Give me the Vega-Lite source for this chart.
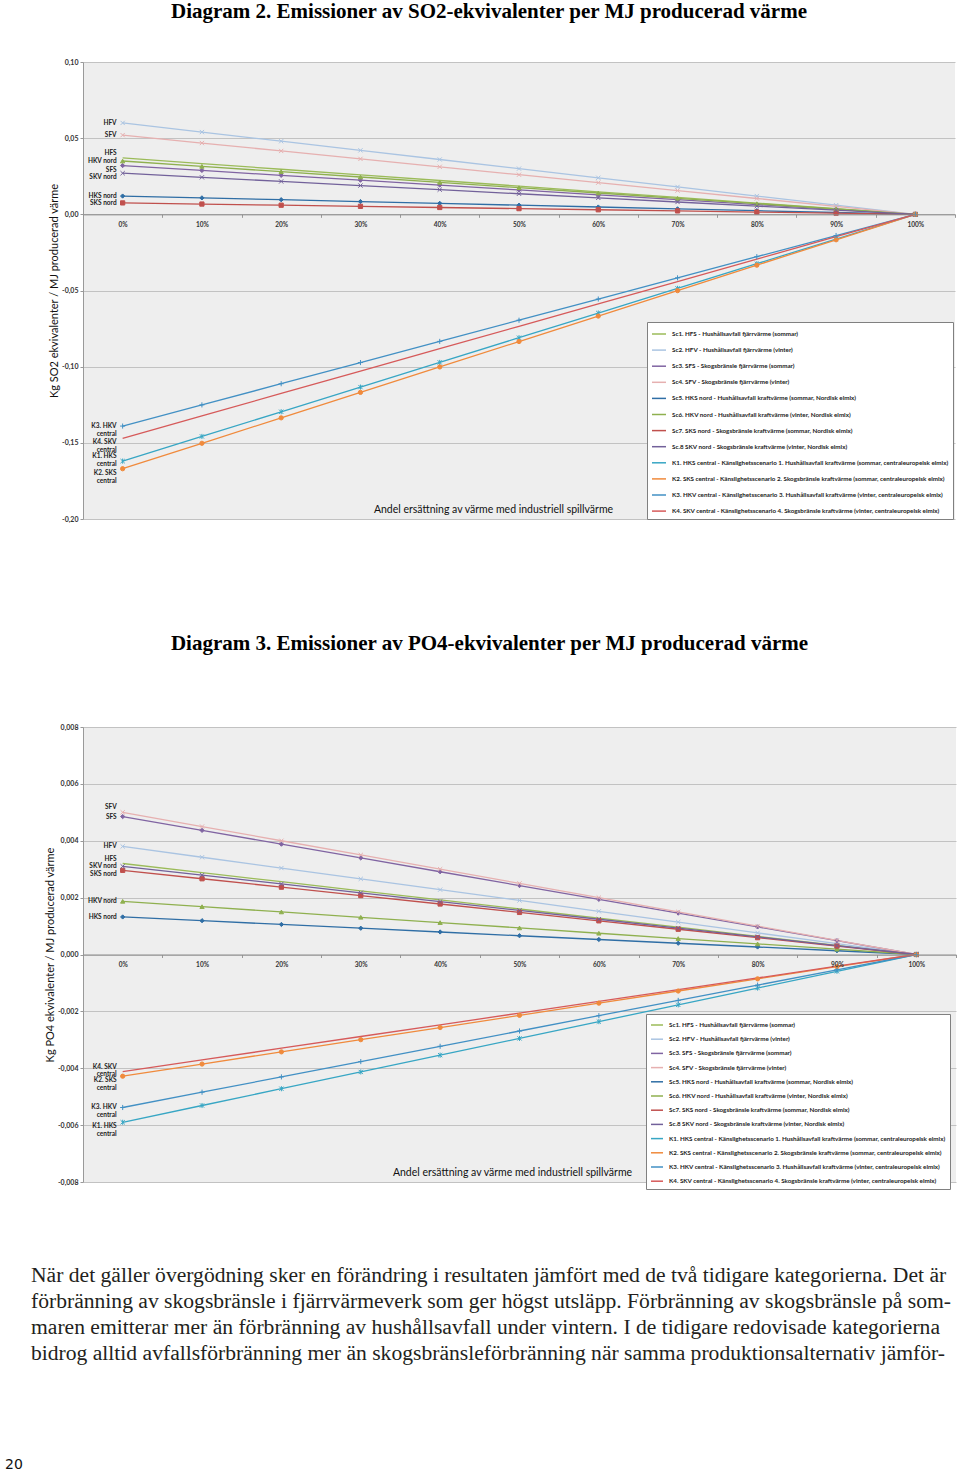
{
"$schema": "https://vega.github.io/schema/vega-lite/v6.json",
"background": "#ffffff",
"padding": {"left": 5, "top": 1, "right": 0, "bottom": 0},
"config": {"view": {"stroke": null}, "font": "Lato", "locale": {"number": {"decimal": ",", "thousands": " ", "grouping": [3], "currency": ["", " kr"], "minus": "-"}}},
"datasets": {
"series": [
{"id": "HFS", "name": "Sc1. HFS - Hushållsavfall fjärrvärme (sommar)", "label": "HFS"},
{"id": "HFV", "name": "Sc2. HFV - Hushållsavfall fjärrvärme (vinter)", "label": "HFV"},
{"id": "SFS", "name": "Sc3. SFS - Skogsbränsle fjärrvärme (sommar)", "label": "SFS"},
{"id": "SFV", "name": "Sc4. SFV - Skogsbränsle fjärrvärme (vinter)", "label": "SFV"},
{"id": "HKSn", "name": "Sc5. HKS nord - Hushållsavfall kraftvärme (sommar, Nordisk elmix)", "label": "HKS nord"},
{"id": "HKVn", "name": "Sc6. HKV nord - Hushållsavfall kraftvärme (vinter, Nordisk elmix)", "label": "HKV nord"},
{"id": "SKSn", "name": "Sc7. SKS nord - Skogsbränsle kraftvärme (sommar, Nordisk elmix)", "label": "SKS nord"},
{"id": "SKVn", "name": "Sc.8 SKV nord - Skogsbränsle kraftvärme (vinter, Nordisk elmix)", "label": "SKV nord"},
{"id": "K1", "name": "K1. HKS central - Känslighetsscenario 1. Hushållsavfall kraftvärme (sommar, centraleuropeisk elmix)", "label": "K1. HKS\ncentral"},
{"id": "K2", "name": "K2. SKS central - Känslighetsscenario 2. Skogsbränsle kraftvärme (sommar, centraleuropeisk elmix)", "label": "K2. SKS\ncentral"},
{"id": "K3", "name": "K3. HKV central - Känslighetsscenario 3. Hushållsavfall kraftvärme (vinter, centraleuropeisk elmix)", "label": "K3. HKV\ncentral"},
{"id": "K4", "name": "K4. SKV central - Känslighetsscenario 4. Skogsbränsle kraftvärme (vinter, centraleuropeisk elmix)", "label": "K4. SKV\ncentral"}
],
"so2": [
{"id":"HFS","p":0,"v":0.037},{"id":"HFS","p":10,"v":0.0333},{"id":"HFS","p":20,"v":0.0296},{"id":"HFS","p":30,"v":0.0259},{"id":"HFS","p":40,"v":0.0222},{"id":"HFS","p":50,"v":0.0185},{"id":"HFS","p":60,"v":0.0148},{"id":"HFS","p":70,"v":0.0111},{"id":"HFS","p":80,"v":0.0074},{"id":"HFS","p":90,"v":0.0037},{"id":"HFS","p":100,"v":0},
{"id":"HFV","p":0,"v":0.06},{"id":"HFV","p":10,"v":0.054},{"id":"HFV","p":20,"v":0.048},{"id":"HFV","p":30,"v":0.042},{"id":"HFV","p":40,"v":0.036},{"id":"HFV","p":50,"v":0.03},{"id":"HFV","p":60,"v":0.024},{"id":"HFV","p":70,"v":0.018},{"id":"HFV","p":80,"v":0.012},{"id":"HFV","p":90,"v":0.006},{"id":"HFV","p":100,"v":0},
{"id":"SFS","p":0,"v":0.032},{"id":"SFS","p":10,"v":0.0288},{"id":"SFS","p":20,"v":0.0256},{"id":"SFS","p":30,"v":0.0224},{"id":"SFS","p":40,"v":0.0192},{"id":"SFS","p":50,"v":0.016},{"id":"SFS","p":60,"v":0.0128},{"id":"SFS","p":70,"v":0.0096},{"id":"SFS","p":80,"v":0.0064},{"id":"SFS","p":90,"v":0.0032},{"id":"SFS","p":100,"v":0},
{"id":"SFV","p":0,"v":0.052},{"id":"SFV","p":10,"v":0.0468},{"id":"SFV","p":20,"v":0.0416},{"id":"SFV","p":30,"v":0.0364},{"id":"SFV","p":40,"v":0.0312},{"id":"SFV","p":50,"v":0.026},{"id":"SFV","p":60,"v":0.0208},{"id":"SFV","p":70,"v":0.0156},{"id":"SFV","p":80,"v":0.0104},{"id":"SFV","p":90,"v":0.0052},{"id":"SFV","p":100,"v":0},
{"id":"HKSn","p":0,"v":0.012},{"id":"HKSn","p":10,"v":0.0108},{"id":"HKSn","p":20,"v":0.0096},{"id":"HKSn","p":30,"v":0.0084},{"id":"HKSn","p":40,"v":0.0072},{"id":"HKSn","p":50,"v":0.006},{"id":"HKSn","p":60,"v":0.0048},{"id":"HKSn","p":70,"v":0.0036},{"id":"HKSn","p":80,"v":0.0024},{"id":"HKSn","p":90,"v":0.0012},{"id":"HKSn","p":100,"v":0},
{"id":"HKVn","p":0,"v":0.035},{"id":"HKVn","p":10,"v":0.0315},{"id":"HKVn","p":20,"v":0.028},{"id":"HKVn","p":30,"v":0.0245},{"id":"HKVn","p":40,"v":0.021},{"id":"HKVn","p":50,"v":0.0175},{"id":"HKVn","p":60,"v":0.014},{"id":"HKVn","p":70,"v":0.0105},{"id":"HKVn","p":80,"v":0.007},{"id":"HKVn","p":90,"v":0.0035},{"id":"HKVn","p":100,"v":0},
{"id":"SKSn","p":0,"v":0.0075},{"id":"SKSn","p":10,"v":0.00675},{"id":"SKSn","p":20,"v":0.006},{"id":"SKSn","p":30,"v":0.00525},{"id":"SKSn","p":40,"v":0.0045},{"id":"SKSn","p":50,"v":0.00375},{"id":"SKSn","p":60,"v":0.003},{"id":"SKSn","p":70,"v":0.00225},{"id":"SKSn","p":80,"v":0.0015},{"id":"SKSn","p":90,"v":0.00075},{"id":"SKSn","p":100,"v":0},
{"id":"SKVn","p":0,"v":0.027},{"id":"SKVn","p":10,"v":0.0243},{"id":"SKVn","p":20,"v":0.0216},{"id":"SKVn","p":30,"v":0.0189},{"id":"SKVn","p":40,"v":0.0162},{"id":"SKVn","p":50,"v":0.0135},{"id":"SKVn","p":60,"v":0.0108},{"id":"SKVn","p":70,"v":0.0081},{"id":"SKVn","p":80,"v":0.0054},{"id":"SKVn","p":90,"v":0.0027},{"id":"SKVn","p":100,"v":0},
{"id":"K1","p":0,"v":-0.162},{"id":"K1","p":10,"v":-0.1458},{"id":"K1","p":20,"v":-0.1296},{"id":"K1","p":30,"v":-0.1134},{"id":"K1","p":40,"v":-0.0972},{"id":"K1","p":50,"v":-0.081},{"id":"K1","p":60,"v":-0.0648},{"id":"K1","p":70,"v":-0.0486},{"id":"K1","p":80,"v":-0.0324},{"id":"K1","p":90,"v":-0.0162},{"id":"K1","p":100,"v":0},
{"id":"K2","p":0,"v":-0.167},{"id":"K2","p":10,"v":-0.1503},{"id":"K2","p":20,"v":-0.1336},{"id":"K2","p":30,"v":-0.1169},{"id":"K2","p":40,"v":-0.1002},{"id":"K2","p":50,"v":-0.0835},{"id":"K2","p":60,"v":-0.0668},{"id":"K2","p":70,"v":-0.0501},{"id":"K2","p":80,"v":-0.0334},{"id":"K2","p":90,"v":-0.0167},{"id":"K2","p":100,"v":0},
{"id":"K3","p":0,"v":-0.139},{"id":"K3","p":10,"v":-0.1251},{"id":"K3","p":20,"v":-0.1112},{"id":"K3","p":30,"v":-0.0973},{"id":"K3","p":40,"v":-0.0834},{"id":"K3","p":50,"v":-0.0695},{"id":"K3","p":60,"v":-0.0556},{"id":"K3","p":70,"v":-0.0417},{"id":"K3","p":80,"v":-0.0278},{"id":"K3","p":90,"v":-0.0139},{"id":"K3","p":100,"v":0},
{"id":"K4","p":0,"v":-0.147},{"id":"K4","p":10,"v":-0.1323},{"id":"K4","p":20,"v":-0.1176},{"id":"K4","p":30,"v":-0.1029},{"id":"K4","p":40,"v":-0.0882},{"id":"K4","p":50,"v":-0.0735},{"id":"K4","p":60,"v":-0.0588},{"id":"K4","p":70,"v":-0.0441},{"id":"K4","p":80,"v":-0.0294},{"id":"K4","p":90,"v":-0.0147},{"id":"K4","p":100,"v":0}
],
"po4": [
{"id":"HFS","p":0,"v":0.0032},{"id":"HFS","p":10,"v":0.00288},{"id":"HFS","p":20,"v":0.00256},{"id":"HFS","p":30,"v":0.00224},{"id":"HFS","p":40,"v":0.00192},{"id":"HFS","p":50,"v":0.0016},{"id":"HFS","p":60,"v":0.00128},{"id":"HFS","p":70,"v":0.00096},{"id":"HFS","p":80,"v":0.00064},{"id":"HFS","p":90,"v":0.00032},{"id":"HFS","p":100,"v":0},
{"id":"HFV","p":0,"v":0.0038},{"id":"HFV","p":10,"v":0.00342},{"id":"HFV","p":20,"v":0.00304},{"id":"HFV","p":30,"v":0.00266},{"id":"HFV","p":40,"v":0.00228},{"id":"HFV","p":50,"v":0.0019},{"id":"HFV","p":60,"v":0.00152},{"id":"HFV","p":70,"v":0.00114},{"id":"HFV","p":80,"v":0.00076},{"id":"HFV","p":90,"v":0.00038},{"id":"HFV","p":100,"v":0},
{"id":"SFS","p":0,"v":0.00485},{"id":"SFS","p":10,"v":0.004365},{"id":"SFS","p":20,"v":0.00388},{"id":"SFS","p":30,"v":0.003395},{"id":"SFS","p":40,"v":0.00291},{"id":"SFS","p":50,"v":0.002425},{"id":"SFS","p":60,"v":0.00194},{"id":"SFS","p":70,"v":0.001455},{"id":"SFS","p":80,"v":0.00097},{"id":"SFS","p":90,"v":0.000485},{"id":"SFS","p":100,"v":0},
{"id":"SFV","p":0,"v":0.005},{"id":"SFV","p":10,"v":0.0045},{"id":"SFV","p":20,"v":0.004},{"id":"SFV","p":30,"v":0.0035},{"id":"SFV","p":40,"v":0.003},{"id":"SFV","p":50,"v":0.0025},{"id":"SFV","p":60,"v":0.002},{"id":"SFV","p":70,"v":0.0015},{"id":"SFV","p":80,"v":0.001},{"id":"SFV","p":90,"v":0.0005},{"id":"SFV","p":100,"v":0},
{"id":"HKSn","p":0,"v":0.00132},{"id":"HKSn","p":10,"v":0.001188},{"id":"HKSn","p":20,"v":0.001056},{"id":"HKSn","p":30,"v":0.000924},{"id":"HKSn","p":40,"v":0.000792},{"id":"HKSn","p":50,"v":0.00066},{"id":"HKSn","p":60,"v":0.000528},{"id":"HKSn","p":70,"v":0.000396},{"id":"HKSn","p":80,"v":0.000264},{"id":"HKSn","p":90,"v":0.000132},{"id":"HKSn","p":100,"v":0},
{"id":"HKVn","p":0,"v":0.00187},{"id":"HKVn","p":10,"v":0.001683},{"id":"HKVn","p":20,"v":0.001496},{"id":"HKVn","p":30,"v":0.001309},{"id":"HKVn","p":40,"v":0.001122},{"id":"HKVn","p":50,"v":0.000935},{"id":"HKVn","p":60,"v":0.000748},{"id":"HKVn","p":70,"v":0.000561},{"id":"HKVn","p":80,"v":0.000374},{"id":"HKVn","p":90,"v":0.000187},{"id":"HKVn","p":100,"v":0},
{"id":"SKSn","p":0,"v":0.00296},{"id":"SKSn","p":10,"v":0.002664},{"id":"SKSn","p":20,"v":0.002368},{"id":"SKSn","p":30,"v":0.002072},{"id":"SKSn","p":40,"v":0.001776},{"id":"SKSn","p":50,"v":0.00148},{"id":"SKSn","p":60,"v":0.001184},{"id":"SKSn","p":70,"v":0.000888},{"id":"SKSn","p":80,"v":0.000592},{"id":"SKSn","p":90,"v":0.000296},{"id":"SKSn","p":100,"v":0},
{"id":"SKVn","p":0,"v":0.0031},{"id":"SKVn","p":10,"v":0.00279},{"id":"SKVn","p":20,"v":0.00248},{"id":"SKVn","p":30,"v":0.00217},{"id":"SKVn","p":40,"v":0.00186},{"id":"SKVn","p":50,"v":0.00155},{"id":"SKVn","p":60,"v":0.00124},{"id":"SKVn","p":70,"v":0.00093},{"id":"SKVn","p":80,"v":0.00062},{"id":"SKVn","p":90,"v":0.00031},{"id":"SKVn","p":100,"v":0},
{"id":"K1","p":0,"v":-0.0059},{"id":"K1","p":10,"v":-0.00531},{"id":"K1","p":20,"v":-0.00472},{"id":"K1","p":30,"v":-0.00413},{"id":"K1","p":40,"v":-0.00354},{"id":"K1","p":50,"v":-0.00295},{"id":"K1","p":60,"v":-0.00236},{"id":"K1","p":70,"v":-0.00177},{"id":"K1","p":80,"v":-0.00118},{"id":"K1","p":90,"v":-0.00059},{"id":"K1","p":100,"v":0},
{"id":"K2","p":0,"v":-0.00428},{"id":"K2","p":10,"v":-0.003852},{"id":"K2","p":20,"v":-0.003424},{"id":"K2","p":30,"v":-0.002996},{"id":"K2","p":40,"v":-0.002568},{"id":"K2","p":50,"v":-0.00214},{"id":"K2","p":60,"v":-0.001712},{"id":"K2","p":70,"v":-0.001284},{"id":"K2","p":80,"v":-0.000856},{"id":"K2","p":90,"v":-0.000428},{"id":"K2","p":100,"v":0},
{"id":"K3","p":0,"v":-0.00538},{"id":"K3","p":10,"v":-0.004842},{"id":"K3","p":20,"v":-0.004304},{"id":"K3","p":30,"v":-0.003766},{"id":"K3","p":40,"v":-0.003228},{"id":"K3","p":50,"v":-0.00269},{"id":"K3","p":60,"v":-0.002152},{"id":"K3","p":70,"v":-0.001614},{"id":"K3","p":80,"v":-0.001076},{"id":"K3","p":90,"v":-0.000538},{"id":"K3","p":100,"v":0},
{"id":"K4","p":0,"v":-0.00412},{"id":"K4","p":10,"v":-0.003708},{"id":"K4","p":20,"v":-0.003296},{"id":"K4","p":30,"v":-0.002884},{"id":"K4","p":40,"v":-0.002472},{"id":"K4","p":50,"v":-0.00206},{"id":"K4","p":60,"v":-0.001648},{"id":"K4","p":70,"v":-0.001236},{"id":"K4","p":80,"v":-0.000824},{"id":"K4","p":90,"v":-0.000412},{"id":"K4","p":100,"v":0}
]
},
"vconcat": [
{
"width": 872, "height": 457,
"view": {"fill": "#eeeeee", "stroke": null},
"title": {"text": "Diagram 2. Emissioner av SO2-ekvivalenter per MJ producerad värme", "frame": "group", "anchor": "middle", "dx": -30, "offset": 19, "baseline": "alphabetic", "font": "Liberation Serif", "fontSize": 21, "fontWeight": "bold", "color": "#000000"},
"data": {"name": "so2"},
"transform": [{"lookup": "id", "from": {"data": {"name": "series"}, "key": "id", "fields": ["name", "label"]}}],
"encoding": {
"x": {"field": "p", "type": "ordinal", "scale": {"type": "band", "paddingInner": 0, "paddingOuter": 0},
"axis": {"orient": "bottom", "offset": -304.67, "labelExpr": "datum.label ? datum.label + '%' : ''", "labelAngle": 0, "labelFont": "Lato", "labelFontSize": 6.5, "labelFontWeight": "bold", "labelColor": "#333333", "labelPadding": 4, "tickSize": 3, "tickBand": "extent", "tickColor": "#999999", "domainColor": "#8a8a8a", "grid": false,
"title": "Andel ersättning av värme med industriell spillvärme", "titleFont": "Lato", "titleFontSize": 10.5, "titleFontWeight": "normal", "titleColor": "#111111", "titleX": 410, "titleY": 295, "titleBaseline": "middle", "titleAlign": "center"}},
"y": {"field": "v", "type": "quantitative", "scale": {"domain": [-0.2, 0.1], "nice": false, "zero": false},
"axis": {"values": [-0.2, -0.15, -0.1, -0.05, 0, 0.05, 0.1], "format": ".2f", "labelFont": "Lato", "labelFontSize": 7, "labelFontWeight": "bold", "labelColor": "#333333", "labelPadding": 2, "tickSize": 3, "tickColor": "#999999", "domainColor": "#999999", "gridColor": "#c2c2c2",
"title": "Kg SO2 ekvivalenter / MJ producerad värme", "titleFont": "Lato", "titleFontSize": 11, "titleFontWeight": "normal", "titleColor": "#111111", "titlePadding": 2}}
},
"layer": [
{"data": {"values": [{}]},
"mark": {"type": "rect", "fillOpacity": 0, "stroke": "#c8c8c8", "strokeWidth": 1, "xOffset": -45, "x2Offset": 3, "yOffset": -5, "y2Offset": 4},
"encoding": {"y": {"datum": 0.1, "type": "quantitative"}, "y2": {"datum": -0.2}}},
{"mark": {"type": "line", "strokeWidth": 1.3},
"encoding": {"color": {"field": "name", "type": "nominal",
"scale": {"domain": ["Sc1. HFS - Hushållsavfall fjärrvärme (sommar)", "Sc2. HFV - Hushållsavfall fjärrvärme (vinter)", "Sc3. SFS - Skogsbränsle fjärrvärme (sommar)", "Sc4. SFV - Skogsbränsle fjärrvärme (vinter)", "Sc5. HKS nord - Hushållsavfall kraftvärme (sommar, Nordisk elmix)", "Sc6. HKV nord - Hushållsavfall kraftvärme (vinter, Nordisk elmix)", "Sc7. SKS nord - Skogsbränsle kraftvärme (sommar, Nordisk elmix)", "Sc.8 SKV nord - Skogsbränsle kraftvärme (vinter, Nordisk elmix)", "K1. HKS central - Känslighetsscenario 1. Hushållsavfall kraftvärme (sommar, centraleuropeisk elmix)", "K2. SKS central - Känslighetsscenario 2. Skogsbränsle kraftvärme (sommar, centraleuropeisk elmix)", "K3. HKV central - Känslighetsscenario 3. Hushållsavfall kraftvärme (vinter, centraleuropeisk elmix)", "K4. SKV central - Känslighetsscenario 4. Skogsbränsle kraftvärme (vinter, centraleuropeisk elmix)"],
"range": ["#9bbb59", "#aac4e2", "#8064a2", "#e6b0b0", "#2f6ea5", "#8fb04f", "#c0504d", "#72619a", "#37a6c4", "#f08a3c", "#4290c4", "#d65a5a"]},
"legend": {"title": null, "orient": "none", "legendX": 564, "legendY": 260, "symbolType": "stroke", "symbolStrokeWidth": 1.5, "symbolSize": 196, "rowPadding": 4.1, "padding": 4, "labelFont": "Lato", "labelFontSize": 6.25, "labelFontWeight": "bold", "labelColor": "#222222", "labelLimit": 400, "labelOffset": 5, "fillColor": "#ffffff", "strokeColor": "#808080", "cornerRadius": 0}}}},
{"transform": [{"filter": {"not": {"field": "id", "oneOf": ["HFS", "K4"]}}}],
"mark": {"type": "point", "filled": true, "size": 18, "strokeWidth": 1, "opacity": 1},
"encoding": {
"color": {"field": "name", "type": "nominal", "legend": null},
"stroke": {"field": "name", "type": "nominal", "legend": null,
"scale": {"domain": ["Sc1. HFS - Hushållsavfall fjärrvärme (sommar)", "Sc2. HFV - Hushållsavfall fjärrvärme (vinter)", "Sc3. SFS - Skogsbränsle fjärrvärme (sommar)", "Sc4. SFV - Skogsbränsle fjärrvärme (vinter)", "Sc5. HKS nord - Hushållsavfall kraftvärme (sommar, Nordisk elmix)", "Sc6. HKV nord - Hushållsavfall kraftvärme (vinter, Nordisk elmix)", "Sc7. SKS nord - Skogsbränsle kraftvärme (sommar, Nordisk elmix)", "Sc.8 SKV nord - Skogsbränsle kraftvärme (vinter, Nordisk elmix)", "K1. HKS central - Känslighetsscenario 1. Hushållsavfall kraftvärme (sommar, centraleuropeisk elmix)", "K2. SKS central - Känslighetsscenario 2. Skogsbränsle kraftvärme (sommar, centraleuropeisk elmix)", "K3. HKV central - Känslighetsscenario 3. Hushållsavfall kraftvärme (vinter, centraleuropeisk elmix)", "K4. SKV central - Känslighetsscenario 4. Skogsbränsle kraftvärme (vinter, centraleuropeisk elmix)"],
"range": ["#9bbb59", "#aac4e2", "#8064a2", "#e6b0b0", "#2f6ea5", "#8fb04f", "#c0504d", "#72619a", "#37a6c4", "#f08a3c", "#4290c4", "#d65a5a"]}},
"shape": {"field": "id", "type": "nominal", "legend": null,
"scale": {"domain": ["HFV", "SFS", "SFV", "HKSn", "HKVn", "SKSn", "SKVn", "K1", "K2", "K3"],
"range": ["M-1,-1L1,1M-1,1L1,-1", "diamond", "M-1,-1L1,1M-1,1L1,-1", "diamond", "triangle-up", "square", "M-1,-1L1,1M-1,1L1,-1", "M-1,-1L1,1M-1,1L1,-1M0,-1.2L0,1.2", "circle", "M-1.2,0L1.2,0M0,-1.2L0,1.2"]}}}},
{"transform": [{"filter": {"and": [{"field": "p", "equal": 0}, {"field": "id", "oneOf": ["HFV", "SFV", "HKVn", "HKSn", "SKSn", "K3"]}]}}],
"mark": {"type": "text", "align": "right", "baseline": "middle", "dx": -6, "font": "Lato", "fontSize": 6.5, "fontWeight": "bold", "color": "#222222", "lineBreak": "\n", "lineHeight": 7.8},
"encoding": {"text": {"field": "label"}}},
{"transform": [{"filter": {"and": [{"field": "p", "equal": 0}, {"field": "id", "oneOf": ["HFS", "K1"]}]}}],
"mark": {"type": "text", "align": "right", "baseline": "middle", "dx": -6, "dy": -5, "font": "Lato", "fontSize": 6.5, "fontWeight": "bold", "color": "#222222", "lineBreak": "\n", "lineHeight": 7.8},
"encoding": {"text": {"field": "label"}}},
{"transform": [{"filter": {"and": [{"field": "p", "equal": 0}, {"field": "id", "oneOf": ["SFS", "SKVn", "K4", "K2"]}]}}],
"mark": {"type": "text", "align": "right", "baseline": "middle", "dx": -6, "dy": 4, "font": "Lato", "fontSize": 6.5, "fontWeight": "bold", "color": "#222222", "lineBreak": "\n", "lineHeight": 7.8},
"encoding": {"text": {"field": "label"}}},
{"data": {"values": [{}]},
"mark": {"type": "text", "align": "right", "baseline": "middle", "dx": 21, "font": "Lato", "fontSize": 12.5, "color": "#111111"},
"encoding": {"x": {"datum": 100, "type": "ordinal"}, "y": {"datum": 0.0873, "type": "quantitative"}, "text": {"value": "Jämförelse av potentiell försurning"}}}
]
},
{
"vconcat": [
{
"width": 873, "height": 455,
"view": {"fill": "#eeeeee", "stroke": null},
"title": {"text": "Diagram 3. Emissioner av PO4-ekvivalenter per MJ producerad värme", "frame": "group", "anchor": "middle", "dx": -30, "offset": 52, "baseline": "alphabetic", "font": "Liberation Serif", "fontSize": 21, "fontWeight": "bold", "color": "#000000"},
"data": {"name": "po4"},
"transform": [{"lookup": "id", "from": {"data": {"name": "series"}, "key": "id", "fields": ["name", "label"]}}],
"encoding": {
"x": {"field": "p", "type": "ordinal", "scale": {"type": "band", "paddingInner": 0, "paddingOuter": 0},
"axis": {"orient": "bottom", "offset": -227.5, "labelExpr": "datum.label ? datum.label + '%' : ''", "labelAngle": 0, "labelFont": "Lato", "labelFontSize": 6.5, "labelFontWeight": "bold", "labelColor": "#333333", "labelPadding": 4, "tickSize": 3, "tickBand": "extent", "tickColor": "#999999", "domainColor": "#8a8a8a", "grid": false,
"title": "Andel ersättning av värme med industriell spillvärme", "titleFont": "Lato", "titleFontSize": 10.5, "titleFontWeight": "normal", "titleColor": "#111111", "titleX": 429, "titleY": 218, "titleBaseline": "middle", "titleAlign": "center"}},
"y": {"field": "v", "type": "quantitative", "scale": {"domain": [-0.008, 0.008], "nice": false, "zero": false},
"axis": {"values": [-0.008, -0.006, -0.004, -0.002, 0, 0.002, 0.004, 0.006, 0.008], "format": ".3f", "labelFont": "Lato", "labelFontSize": 7, "labelFontWeight": "bold", "labelColor": "#333333", "labelPadding": 2, "tickSize": 3, "tickColor": "#999999", "domainColor": "#999999", "gridColor": "#c2c2c2",
"title": "Kg PO4 ekvivalenter / MJ producerad värme", "titleFont": "Lato", "titleFontSize": 11, "titleFontWeight": "normal", "titleColor": "#111111", "titlePadding": 2}}
},
"layer": [
{"data": {"values": [{}]},
"mark": {"type": "rect", "fillOpacity": 0, "stroke": "#c8c8c8", "strokeWidth": 1, "xOffset": -45, "x2Offset": 2, "yOffset": -5, "y2Offset": 4},
"encoding": {"y": {"datum": 0.008, "type": "quantitative"}, "y2": {"datum": -0.008}}},
{"mark": {"type": "line", "strokeWidth": 1.3},
"encoding": {"color": {"field": "name", "type": "nominal",
"scale": {"domain": ["Sc1. HFS - Hushållsavfall fjärrvärme (sommar)", "Sc2. HFV - Hushållsavfall fjärrvärme (vinter)", "Sc3. SFS - Skogsbränsle fjärrvärme (sommar)", "Sc4. SFV - Skogsbränsle fjärrvärme (vinter)", "Sc5. HKS nord - Hushållsavfall kraftvärme (sommar, Nordisk elmix)", "Sc6. HKV nord - Hushållsavfall kraftvärme (vinter, Nordisk elmix)", "Sc7. SKS nord - Skogsbränsle kraftvärme (sommar, Nordisk elmix)", "Sc.8 SKV nord - Skogsbränsle kraftvärme (vinter, Nordisk elmix)", "K1. HKS central - Känslighetsscenario 1. Hushållsavfall kraftvärme (sommar, centraleuropeisk elmix)", "K2. SKS central - Känslighetsscenario 2. Skogsbränsle kraftvärme (sommar, centraleuropeisk elmix)", "K3. HKV central - Känslighetsscenario 3. Hushållsavfall kraftvärme (vinter, centraleuropeisk elmix)", "K4. SKV central - Känslighetsscenario 4. Skogsbränsle kraftvärme (vinter, centraleuropeisk elmix)"],
"range": ["#9bbb59", "#aac4e2", "#8064a2", "#e6b0b0", "#2f6ea5", "#8fb04f", "#c0504d", "#72619a", "#37a6c4", "#f08a3c", "#4290c4", "#d65a5a"]},
"legend": {"title": null, "orient": "none", "legendX": 563, "legendY": 287, "symbolType": "stroke", "symbolStrokeWidth": 1.5, "symbolSize": 144, "rowPadding": 3.2, "padding": 4, "labelFont": "Lato", "labelFontSize": 6.25, "labelFontWeight": "bold", "labelColor": "#222222", "labelLimit": 400, "labelOffset": 5, "fillColor": "#ffffff", "strokeColor": "#808080", "cornerRadius": 0}}}},
{"transform": [{"filter": {"not": {"field": "id", "oneOf": ["HFS", "K4"]}}}],
"mark": {"type": "point", "filled": true, "size": 18, "strokeWidth": 1, "opacity": 1},
"encoding": {
"color": {"field": "name", "type": "nominal", "legend": null},
"stroke": {"field": "name", "type": "nominal", "legend": null,
"scale": {"domain": ["Sc1. HFS - Hushållsavfall fjärrvärme (sommar)", "Sc2. HFV - Hushållsavfall fjärrvärme (vinter)", "Sc3. SFS - Skogsbränsle fjärrvärme (sommar)", "Sc4. SFV - Skogsbränsle fjärrvärme (vinter)", "Sc5. HKS nord - Hushållsavfall kraftvärme (sommar, Nordisk elmix)", "Sc6. HKV nord - Hushållsavfall kraftvärme (vinter, Nordisk elmix)", "Sc7. SKS nord - Skogsbränsle kraftvärme (sommar, Nordisk elmix)", "Sc.8 SKV nord - Skogsbränsle kraftvärme (vinter, Nordisk elmix)", "K1. HKS central - Känslighetsscenario 1. Hushållsavfall kraftvärme (sommar, centraleuropeisk elmix)", "K2. SKS central - Känslighetsscenario 2. Skogsbränsle kraftvärme (sommar, centraleuropeisk elmix)", "K3. HKV central - Känslighetsscenario 3. Hushållsavfall kraftvärme (vinter, centraleuropeisk elmix)", "K4. SKV central - Känslighetsscenario 4. Skogsbränsle kraftvärme (vinter, centraleuropeisk elmix)"],
"range": ["#9bbb59", "#aac4e2", "#8064a2", "#e6b0b0", "#2f6ea5", "#8fb04f", "#c0504d", "#72619a", "#37a6c4", "#f08a3c", "#4290c4", "#d65a5a"]}},
"shape": {"field": "id", "type": "nominal", "legend": null,
"scale": {"domain": ["HFV", "SFS", "SFV", "HKSn", "HKVn", "SKSn", "SKVn", "K1", "K2", "K3"],
"range": ["M-1,-1L1,1M-1,1L1,-1", "diamond", "M-1,-1L1,1M-1,1L1,-1", "diamond", "triangle-up", "square", "M-1,-1L1,1M-1,1L1,-1", "M-1,-1L1,1M-1,1L1,-1M0,-1.2L0,1.2", "circle", "M-1.2,0L1.2,0M0,-1.2L0,1.2"]}}}},
{"transform": [{"filter": {"and": [{"field": "p", "equal": 0}, {"field": "id", "oneOf": ["SFS", "HFV", "SKVn", "HKVn", "HKSn", "K3"]}]}}],
"mark": {"type": "text", "align": "right", "baseline": "middle", "dx": -6, "font": "Lato", "fontSize": 6.5, "fontWeight": "bold", "color": "#222222", "lineBreak": "\n", "lineHeight": 7.5},
"encoding": {"text": {"field": "label"}}},
{"transform": [{"filter": {"and": [{"field": "p", "equal": 0}, {"field": "id", "oneOf": ["SFV", "HFS", "K4"]}]}}],
"mark": {"type": "text", "align": "right", "baseline": "middle", "dx": -6, "dy": -5, "font": "Lato", "fontSize": 6.5, "fontWeight": "bold", "color": "#222222", "lineBreak": "\n", "lineHeight": 7.5},
"encoding": {"text": {"field": "label"}}},
{"transform": [{"filter": {"and": [{"field": "p", "equal": 0}, {"field": "id", "oneOf": ["SKSn", "K2", "K1"]}]}}],
"mark": {"type": "text", "align": "right", "baseline": "middle", "dx": -6, "dy": 4, "font": "Lato", "fontSize": 6.5, "fontWeight": "bold", "color": "#222222", "lineBreak": "\n", "lineHeight": 7.5},
"encoding": {"text": {"field": "label"}}},
{"data": {"values": [{}]},
"mark": {"type": "text", "align": "right", "baseline": "middle", "dx": 31, "font": "Lato", "fontSize": 12.5, "color": "#111111"},
"encoding": {"x": {"datum": 100, "type": "ordinal"}, "y": {"datum": 0.00731, "type": "quantitative"}, "text": {"value": "Jämförelse av potentiell övergödning"}}}
]
},
{
"width": 873, "height": 78,
"data": {"values": [
{"line": 1, "text": "När det gäller övergödning sker en förändring i resultaten jämfört med de två tidigare kategorierna. Det är"},
{"line": 2, "text": "förbränning av skogsbränsle i fjärrvärmeverk som ger högst utsläpp. Förbränning av skogsbränsle på som-"},
{"line": 3, "text": "maren emitterar mer än förbränning av hushållsavfall under vintern. I de tidigare redovisade kategorierna"},
{"line": 4, "text": "bidrog alltid avfallsförbränning mer än skogsbränsleförbränning när samma produktionsalternativ jämför-"}
]},
"mark": {"type": "text", "align": "left", "baseline": "alphabetic", "font": "Liberation Serif", "fontSize": 21.6, "color": "#231f20", "dx": -52},
"encoding": {
"x": {"datum": 0, "type": "quantitative", "scale": {"domain": [0, 1]}, "axis": null},
"y": {"field": "line", "type": "ordinal", "scale": {"type": "point", "padding": 0}, "axis": null},
"text": {"field": "text"}
}
},
{
"width": 873, "height": 10,
"data": {"values": [{"page": "20"}]},
"mark": {"type": "text", "align": "left", "baseline": "middle", "font": "DejaVu Sans", "fontSize": 14, "color": "#111111", "dx": -78},
"encoding": {
"x": {"datum": 0, "type": "quantitative", "scale": {"domain": [0, 1]}, "axis": null},
"text": {"field": "page"}
}
}
],
"spacing": 100,
"bounds": "flush",
"resolve": {"scale": {"color": "independent", "stroke": "independent", "shape": "independent", "x": "independent", "y": "independent"}, "legend": {"color": "independent"}}
}
],
"spacing": 208,
"bounds": "flush",
"resolve": {"scale": {"color": "independent", "stroke": "independent", "shape": "independent", "x": "independent", "y": "independent"}, "legend": {"color": "independent"}}
}
